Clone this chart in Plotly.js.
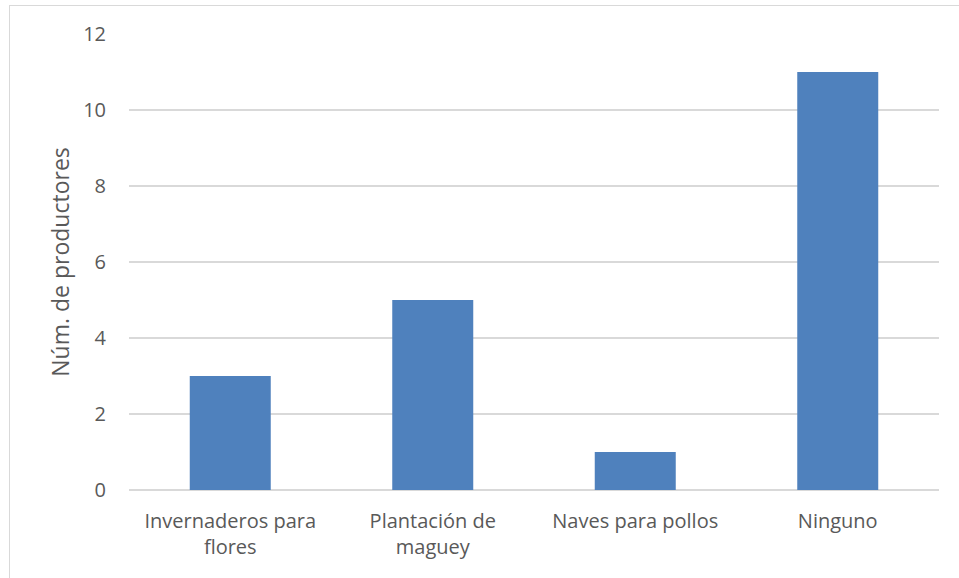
<!DOCTYPE html>
<html><head><meta charset="utf-8">
<script src="https://cdn.plot.ly/plotly-3.0.1.min.js"></script>
<style>html,body{margin:0;padding:0;background:#fff;}#wrap{position:relative;width:959px;height:578px;}#chart{width:959px;height:578px;}#frame{position:absolute;left:9px;top:5px;width:960px;height:600px;border:1.5px solid #d9d9d9;pointer-events:none;}</style>
</head><body><div id="wrap"><div id="chart"></div><div id="frame"></div></div>
<script>
const categories = ["Invernaderos para<br>flores", "Plantación de<br>maguey", "Naves para pollos", "Ninguno"];
const values = [3, 5, 1, 11];
const yTicks = [0, 2, 4, 6, 8, 10, 12];
const yTitle = "Núm. de productores";

Plotly.newPlot('chart', [{
  type: 'bar', x: categories, y: values,
  marker: {color: '#4F81BD', line: {width: 0}},
  width: 0.4, hoverinfo: 'none'
}], {
  width: 959, height: 578,
  margin: {l: 129, r: 20, t: 34, b: 88},
  paper_bgcolor: '#fff', plot_bgcolor: '#fff',
  font: {family: 'Open Sans, sans-serif', size: 20, color: '#595959'},
  bargap: 0.6,
  xaxis: {type: 'category', showgrid: false, zeroline: false, showline: false, ticks: '', ticklabelstandoff: 17, tickfont: {size: 20, color: '#595959'}},
  yaxis: {range: [0, 12], tickvals: yTicks, ticktext: yTicks.map(String), showgrid: true, gridcolor: '#d9d9d9', gridwidth: 1.5, zeroline: true, zerolinecolor: '#d9d9d9', zerolinewidth: 1.5, showline: false, ticks: '', ticklabelstandoff: 22, tickfont: {size: 20, color: '#595959'},
    title: {text: yTitle, font: {size: 23, color: '#595959'}, standoff: 7}},
  showlegend: false
}, {staticPlot: true});
</script></body></html>
